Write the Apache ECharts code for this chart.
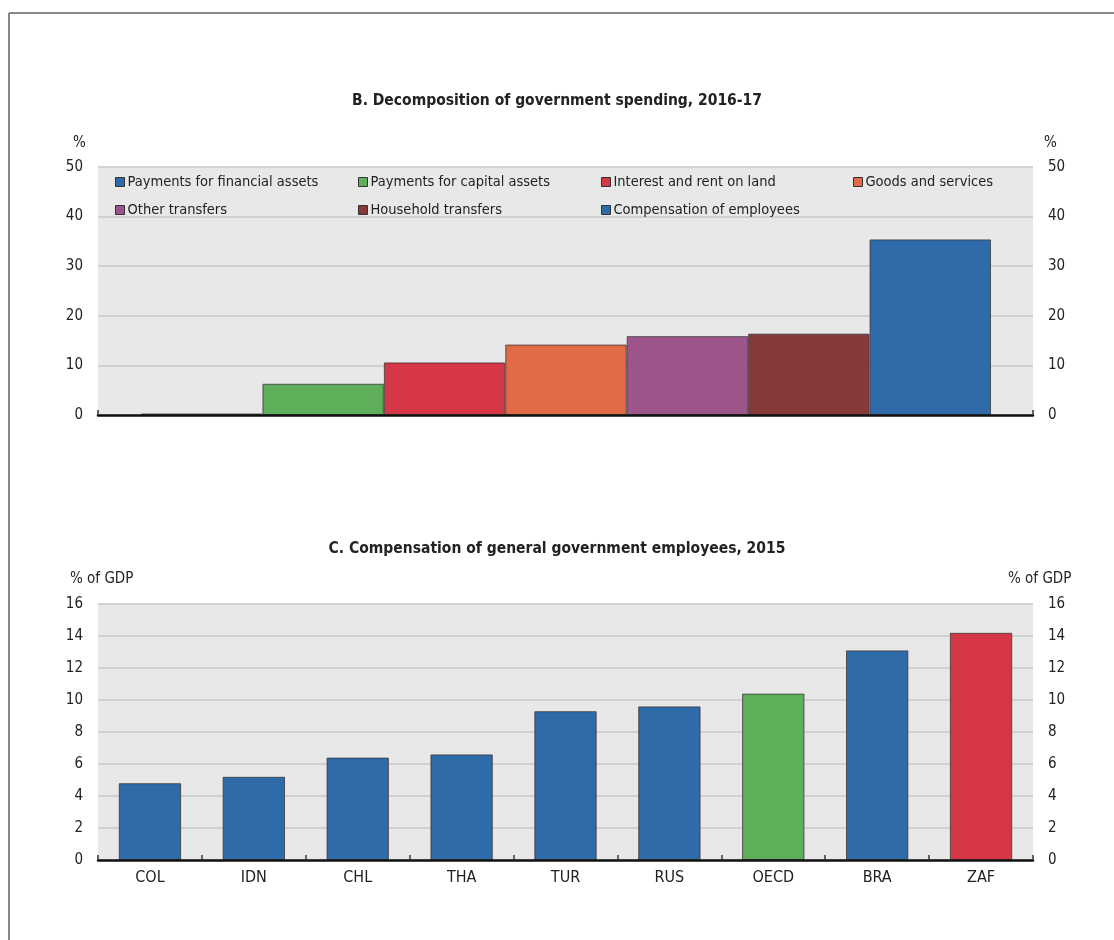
<!DOCTYPE html>
<html>
<head>
<meta charset="utf-8">
<script src="https://cdn.jsdelivr.net/npm/echarts@6/dist/echarts.min.js"></script>
<style>
html,body{margin:0;padding:0;background:#fff;}
#chart{width:1114px;height:940px;}
</style>
</head>
<body>
<div id="chart"></div>
<script>
// ---- Panel B data ----
var spendCategories = ['Payments for financial assets','Payments for capital assets','Interest and rent on land','Goods and services','Other transfers','Household transfers','Compensation of employees'];
var spendValues = [0.3, 6.3, 10.6, 14.2, 15.9, 16.4, 35.4];
var spendTicks = [0, 10, 20, 30, 40, 50];

// ---- Panel C data ----
var countries = ['COL','IDN','CHL','THA','TUR','RUS','OECD','BRA','ZAF'];
var compValues = [4.8, 5.2, 6.4, 6.6, 9.3, 9.6, 10.4, 13.1, 14.2];
var compTicks = [0, 2, 4, 6, 8, 10, 12, 14, 16];

// ---- styles ----
var FONT = '"Liberation Sans Narrow","DejaVu Sans Condensed","Arial Narrow",sans-serif';
var TXT = '#222';
var spendColors = ['#2e6ba8','#5fae5a','#d63746','#e06b45','#9e558c','#873839','#2e6ba8'];
var compColor = {OECD:'#5fae5a', ZAF:'#d63746'};
var compDefault = '#2e6ba8';
var gridLine = '#c8c8c8';
var bg = '#e8e8e8';

var chart = echarts.init(document.getElementById('chart'), null, {renderer:'canvas'});

function valAxis(grid, pos, ticks, show){
  return {
    type:'value', gridIndex:grid, position:pos,
    min:ticks[0], max:ticks[ticks.length-1], interval:ticks[1]-ticks[0],
    show:show!==false,
    axisLine:{show:false}, axisTick:{show:false},
    axisLabel:{show:show!==false, fontFamily:FONT, fontSize:15, color:TXT, margin:15},
    splitLine:{show:pos==='left' && show!==false, lineStyle:{color:gridLine, width:1.5}}
  };
}

var spendSeries = spendCategories.map(function(name, i){
  return {
    name:name, type:'bar', xAxisIndex:1, yAxisIndex:2, stack:'s',
    barCategoryGap:'0%',
    itemStyle:{color:spendColors[i], borderColor:'rgba(50,50,50,0.75)', borderWidth:1},
    data: spendCategories.map(function(c, j){ return j===i ? spendValues[i] : '-'; })
  };
});

// legend columns (4 columns x 2 rows)
var legendCols = [[0,4],[1,5],[2,6],[3]];
var legendX = [115, 358, 601, 853];
var legends = legendCols.map(function(col, k){
  return {
    orient:'vertical', left:legendX[k], top:173, padding:0,
    itemWidth:9, itemHeight:9, itemGap:10, icon:'rect',
    selectedMode:false,
    itemStyle:{borderColor:'#333', borderWidth:1},
    textStyle:{fontFamily:FONT, fontSize:14.5, color:TXT, lineHeight:18, padding:[0,0,0,-2]},
    data: col.map(function(i){ return spendCategories[i]; })
  };
});

var option = {
  animation:false,
  backgroundColor:'#fff',
  title:[
    {text:'B. Decomposition of government spending, 2016-17', left:'center', top:88,
     textStyle:{fontFamily:FONT, fontSize:15.5, fontWeight:'bold', color:TXT}},
    {text:'C. Compensation of general government employees, 2015', left:'center', top:536,
     textStyle:{fontFamily:FONT, fontSize:15.5, fontWeight:'bold', color:TXT}}
  ],
  legend: legends,
  grid:[
    {left:98, right:81, top:167, height:248, show:true, backgroundColor:bg, borderWidth:0},
    {left:141, right:123, top:167, height:248, show:false},
    {left:98, right:81, top:604, height:256, show:true, backgroundColor:bg, borderWidth:0}
  ],
  xAxis:[
    {type:'value', gridIndex:0, min:0, max:1, interval:1, z:5,
     axisLine:{show:true, lineStyle:{color:'#111', width:2.5}},
     axisTick:{show:true, inside:true, length:5, lineStyle:{color:'#333', width:1.5}},
     axisLabel:{show:false}, splitLine:{show:false}},
    {type:'category', gridIndex:1, data:spendCategories, show:false},
    {type:'category', gridIndex:2, data:countries, z:5,
     axisLine:{show:true, lineStyle:{color:'#111', width:2.5}},
     axisTick:{show:true, inside:true, length:5, interval:0, lineStyle:{color:'#333', width:1.5}},
     axisLabel:{fontFamily:FONT, fontSize:16, color:TXT, margin:10, interval:0},
     splitLine:{show:false}}
  ],
  yAxis:[
    valAxis(0,'left',spendTicks),
    valAxis(0,'right',spendTicks),
    valAxis(1,'left',spendTicks,false),
    valAxis(2,'left',compTicks),
    valAxis(2,'right',compTicks)
  ],
  graphic:[
    {type:'line', shape:{x1:9, y1:13, x2:1114, y2:13}, style:{stroke:'#888', lineWidth:2}, silent:true},
    {type:'line', shape:{x1:9, y1:13, x2:9, y2:940}, style:{stroke:'#888', lineWidth:2}, silent:true},
    {type:'text', left:73, top:136, style:{text:'%', font:'15px '+FONT, fill:TXT}},
    {type:'text', left:1044, top:136, style:{text:'%', font:'15px '+FONT, fill:TXT}},
    {type:'text', left:70, top:572, style:{text:'% of GDP', font:'15px '+FONT, fill:TXT}},
    {type:'text', left:1008, top:572, style:{text:'% of GDP', font:'15px '+FONT, fill:TXT}}
  ],
  series: spendSeries.concat([
    {name:'Compensation', type:'bar', xAxisIndex:2, yAxisIndex:3, barCategoryGap:'40%',
     itemStyle:{borderColor:'rgba(50,50,50,0.75)', borderWidth:1},
     data: countries.map(function(c, i){
       return {value:compValues[i], itemStyle:{color: compColor[c] || compDefault}};
     })}
  ])
};
chart.setOption(option);
</script>
</body>
</html>
